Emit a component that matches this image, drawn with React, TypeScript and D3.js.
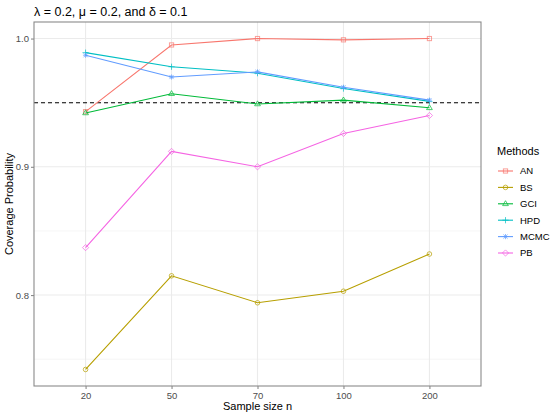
// @ts-nocheck
import React, { useEffect, useRef } from "react";
import * as d3 from "d3";

const sampleSizes = ["20", "50", "70", "100", "200"];
const methods = ["AN", "BS", "GCI", "HPD", "MCMC", "PB"];
const colors = ["#F8766D", "#B79F00", "#00BA38", "#00BFC4", "#619CFF", "#F564E3"];

const anValues = [0.943, 0.995, 1.0, 0.999, 1.0];
const bsValues = [0.742, 0.815, 0.794, 0.803, 0.832];
const gciValues = [0.942, 0.957, 0.949, 0.952, 0.946];
const hpdValues = [0.989, 0.978, 0.973, 0.961, 0.951];
const mcmcValues = [0.987, 0.970, 0.974, 0.962, 0.952];
const pbValues = [0.837, 0.912, 0.900, 0.926, 0.940];

const yTicks = [0.8, 0.9, 1.0];
const yMinor = [0.75, 0.85, 0.95];
const target = 0.95;

const series = [anValues, bsValues, gciValues, hpdValues, mcmcValues, pbValues];

const font = "'Liberation Sans', Arial, sans-serif";

// draws the ggplot-like point shapes
function drawShape(g, i, x, y, color) {
  const s = 2.6;
  const common = sel => sel.attr("fill", "none").attr("stroke", color).attr("stroke-width", 1).attr("opacity", 0.7);
  if (i === 0) {
    g.append("rect").attr("x", x - s + 0.5).attr("y", y - s + 0.5).attr("width", 2 * s - 1).attr("height", 2 * s - 1).call(common);
  } else if (i === 1) {
    g.append("circle").attr("cx", x).attr("cy", y).attr("r", s - 0.3).call(common);
  } else if (i === 2) {
    g.append("path").attr("d", `M${x},${y - s - 0.5}L${x + s + 0.3},${y + s - 0.8}L${x - s - 0.3},${y + s - 0.8}Z`).call(common);
  } else if (i === 3) {
    g.append("path").attr("d", `M${x - s - 0.5},${y}H${x + s + 0.5}M${x},${y - s - 0.5}V${y + s + 0.5}`).call(common);
  } else if (i === 4) {
    const d = s * 0.8;
    g.append("path").attr("d", `M${x - d},${y - d}L${x + d},${y + d}M${x - d},${y + d}L${x + d},${y - d}M${x - s},${y}H${x + s}M${x},${y - s}V${y + s}`).call(common);
  } else {
    g.append("path").attr("d", `M${x},${y - s - 0.5}L${x + s + 0.5},${y}L${x},${y + s + 0.5}L${x - s - 0.5},${y}Z`).call(common);
  }
}

const Chart = () => {
  const ref = useRef();
  useEffect(() => {
    const svg = d3.select(ref.current);
    svg.selectAll("*").remove();

    const margin = { top: 22, right: 69, bottom: 30, left: 34 };
    const width = 550, height = 416;

    const x = d3.scalePoint().domain(sampleSizes).range([margin.left, width - margin.right]).padding(0.6);
    const lo = d3.min(series.flat()), hi = d3.max(series.flat());
    const pad = (hi - lo) * 0.05;
    const y = d3.scaleLinear().domain([lo - pad, hi + pad]).range([height - margin.bottom, margin.top]);

    svg.append("rect").attr("width", width).attr("height", height).attr("fill", "#fff");

    // grid
    const grid = svg.append("g");
    yMinor.forEach(v =>
      grid.append("line").attr("x1", margin.left).attr("x2", width - margin.right)
        .attr("y1", y(v)).attr("y2", y(v)).attr("stroke", "#F0F0F0").attr("stroke-width", 0.6));
    yTicks.forEach(v =>
      grid.append("line").attr("x1", margin.left).attr("x2", width - margin.right)
        .attr("y1", y(v)).attr("y2", y(v)).attr("stroke", "#EBEBEB").attr("stroke-width", 1.1));
    sampleSizes.forEach(s =>
      grid.append("line").attr("x1", x(s)).attr("x2", x(s))
        .attr("y1", margin.top).attr("y2", height - margin.bottom).attr("stroke", "#EBEBEB").attr("stroke-width", 1.1));

    // reference line
    svg.append("line").attr("x1", margin.left).attr("x2", width - margin.right)
      .attr("y1", y(target)).attr("y2", y(target))
      .attr("stroke", "#000").attr("stroke-width", 1.1).attr("stroke-dasharray", "4,3");

    const line = d3.line().x((d, j) => x(sampleSizes[j])).y(d => y(d));
    series.forEach((vals, i) => {
      svg.append("path").datum(vals).attr("d", line).attr("fill", "none")
        .attr("stroke", colors[i]).attr("stroke-width", 1.1);
      const g = svg.append("g");
      vals.forEach((v, j) => drawShape(g, i, x(sampleSizes[j]), y(v), colors[i]));
    });

    // panel border
    svg.append("rect").attr("x", margin.left).attr("y", margin.top)
      .attr("width", width - margin.left - margin.right).attr("height", height - margin.top - margin.bottom)
      .attr("fill", "none").attr("stroke", "#8a8a8a").attr("stroke-width", 1.1);

    // axes
    const yAxis = svg.append("g").attr("transform", `translate(${margin.left},0)`)
      .call(d3.axisLeft(y).tickValues(yTicks).tickFormat(d3.format(".1f")).tickSize(3).tickPadding(2));
    const xAxis = svg.append("g").attr("transform", `translate(0,${height - margin.bottom})`)
      .call(d3.axisBottom(x).tickSize(3).tickPadding(3));
    [xAxis, yAxis].forEach(a => {
      a.select(".domain").remove();
      a.selectAll(".tick line").attr("stroke", "#8a8a8a").attr("stroke-width", 1.1);
      a.selectAll(".tick text").attr("fill", "#4D4D4D").attr("font-size", 9.5).attr("font-family", font);
    });

    // titles
    svg.append("text").attr("x", margin.left).attr("y", 16).attr("font-size", 12.5)
      .attr("font-family", font).attr("fill", "#000").text("λ = 0.2, μ = 0.2, and δ = 0.1");
    svg.append("text").attr("x", (margin.left + width - margin.right) / 2).attr("y", 410)
      .attr("text-anchor", "middle").attr("font-size", 11).attr("font-family", font).text("Sample size n");
    svg.append("text").attr("transform", `translate(13,${(margin.top + height - margin.bottom) / 2}) rotate(-90)`)
      .attr("text-anchor", "middle").attr("font-size", 11).attr("font-family", font).text("Coverage Probability");

    // legend
    const leg = svg.append("g");
    leg.append("text").attr("x", 497).attr("y", 155).attr("font-size", 11).attr("font-family", font).text("Methods");
    methods.forEach((m, i) => {
      const cy = 171 + i * 16.4;
      leg.append("line").attr("x1", 498).attr("x2", 513).attr("y1", cy).attr("y2", cy)
        .attr("stroke", colors[i]).attr("stroke-width", 1.1);
      drawShape(leg, i, 505.5, cy, colors[i]);
      leg.append("text").attr("x", 520).attr("y", cy + 3.4).attr("font-size", 9.5)
        .attr("font-family", font).attr("fill", "#000").text(m);
    });
  }, []);

  return <svg width={550} height={416} ref={ref} style={{ display: "block" }}></svg>;
};

export default function App() {
  return (
    <div style={{ position: "fixed", left: 0, top: 0 }}>
      <Chart />
    </div>
  );
}
